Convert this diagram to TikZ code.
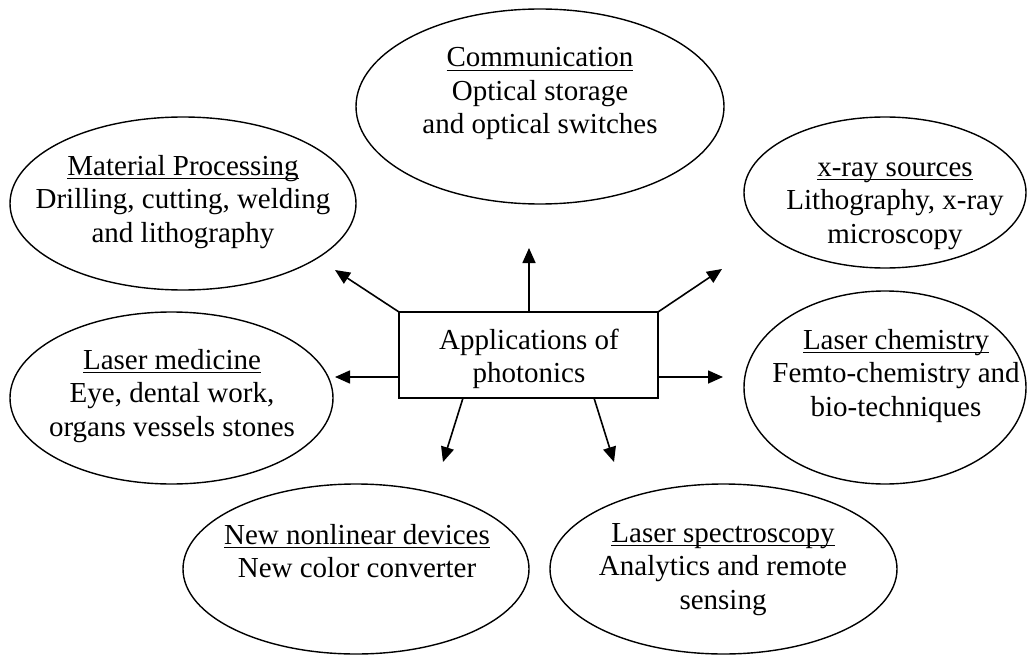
\documentclass[tikz,border=0pt]{standalone}
\usepackage{fontspec}
\setmainfont{Liberation Serif}
\usetikzlibrary{shapes.geometric,arrows.meta}
% underline drawn at a fixed depth, crossing the descenders
\newcommand\uln[1]{\setbox0\hbox{#1}\rlap{\rule[-4pt]{\wd0}{1.4pt}}\box0}
\tikzset{
  field/.style={ellipse, draw, line width=1.4pt, inner sep=0pt, outer sep=0pt},
  hub/.style={rectangle, draw, line width=1.8pt, inner sep=0pt, outer sep=0pt},
  % placed by the baseline of the last line
  caption/.style={align=center, inner sep=0pt, anchor=base,
    font=\fontsize{29}{33.5}\selectfont},
  link/.style={line width=1.6pt, -{Triangle[length=15pt,width=13pt]}}
}
\begin{document}
\begin{tikzpicture}[x=1pt,y=-1pt]
\useasboundingbox (0,0) rectangle (1027,655);

% application fields
\node[field, minimum width=368pt, minimum height=195pt] (comm) at (540,106.5) {};
\node[field, minimum width=346pt, minimum height=173pt] (mat)  at (183,203.5) {};
\node[field, minimum width=282pt, minimum height=151pt] (xray) at (885,192.5) {};
\node[field, minimum width=282pt, minimum height=193pt] (chem) at (885,387.5) {};
\node[field, minimum width=323pt, minimum height=172pt] (med)  at (171.5,398) {};
\node[field, minimum width=346pt, minimum height=170pt] (nlin) at (356,569) {};
\node[field, minimum width=347pt, minimum height=170pt] (spec) at (723.5,569) {};

% central box
\node[hub, minimum width=259pt, minimum height=86pt] (app) at (528.5,355) {};

% texts
\node[caption] (commT) at (540,134) {\uln{Communication}\\Optical storage\\and optical switches};
\node[caption] (matT)  at (183,242) {\uln{Material Processing}\\Drilling, cutting, welding\\and lithography};
\node[caption] (xrayT) at (895,243) {\uln{x-ray sources}\\Lithography, x-ray\\microscopy};
\node[caption] (chemT) at (896,416) {\uln{Laser chemistry}\\Femto-chemistry and\\bio-techniques};
\node[caption] (medT)  at (172,436) {\uln{Laser medicine}\\Eye, dental work,\\organs vessels stones};
\node[caption] (nlinT) at (357,577.5) {\uln{New nonlinear devices}\\New color converter};
\node[caption] (specT) at (723,609) {\uln{Laser spectroscopy}\\Analytics and remote\\sensing};
\node[caption] (appT)  at (529,382.5) {Applications of\\photonics};

% arrow tips
\coordinate (tMat)  at (335,270);
\coordinate (tComm) at (529,248);
\coordinate (tXray) at (722,269);
\coordinate (tMed)  at (335,377);
\coordinate (tChem) at (723,377);
\coordinate (tNlin) at (443,462);
\coordinate (tSpec) at (614,462);

% arrow starts on the box
\coordinate (sMed)  at (app.west |- tMed);
\coordinate (sChem) at (app.east |- tChem);
\coordinate (sComm) at (tComm |- app.north);
\coordinate (sNlin) at (463,398);
\coordinate (sSpec) at (594,398);

\draw[link] (app.north west) -- (tMat);
\draw[link] (sComm) -- (tComm);
\draw[link] (app.north east) -- (tXray);
\draw[link] (sMed) -- (tMed);
\draw[link] (sChem) -- (tChem);
\draw[link] (sNlin) -- (tNlin);
\draw[link] (sSpec) -- (tSpec);
\end{tikzpicture}
\end{document}
